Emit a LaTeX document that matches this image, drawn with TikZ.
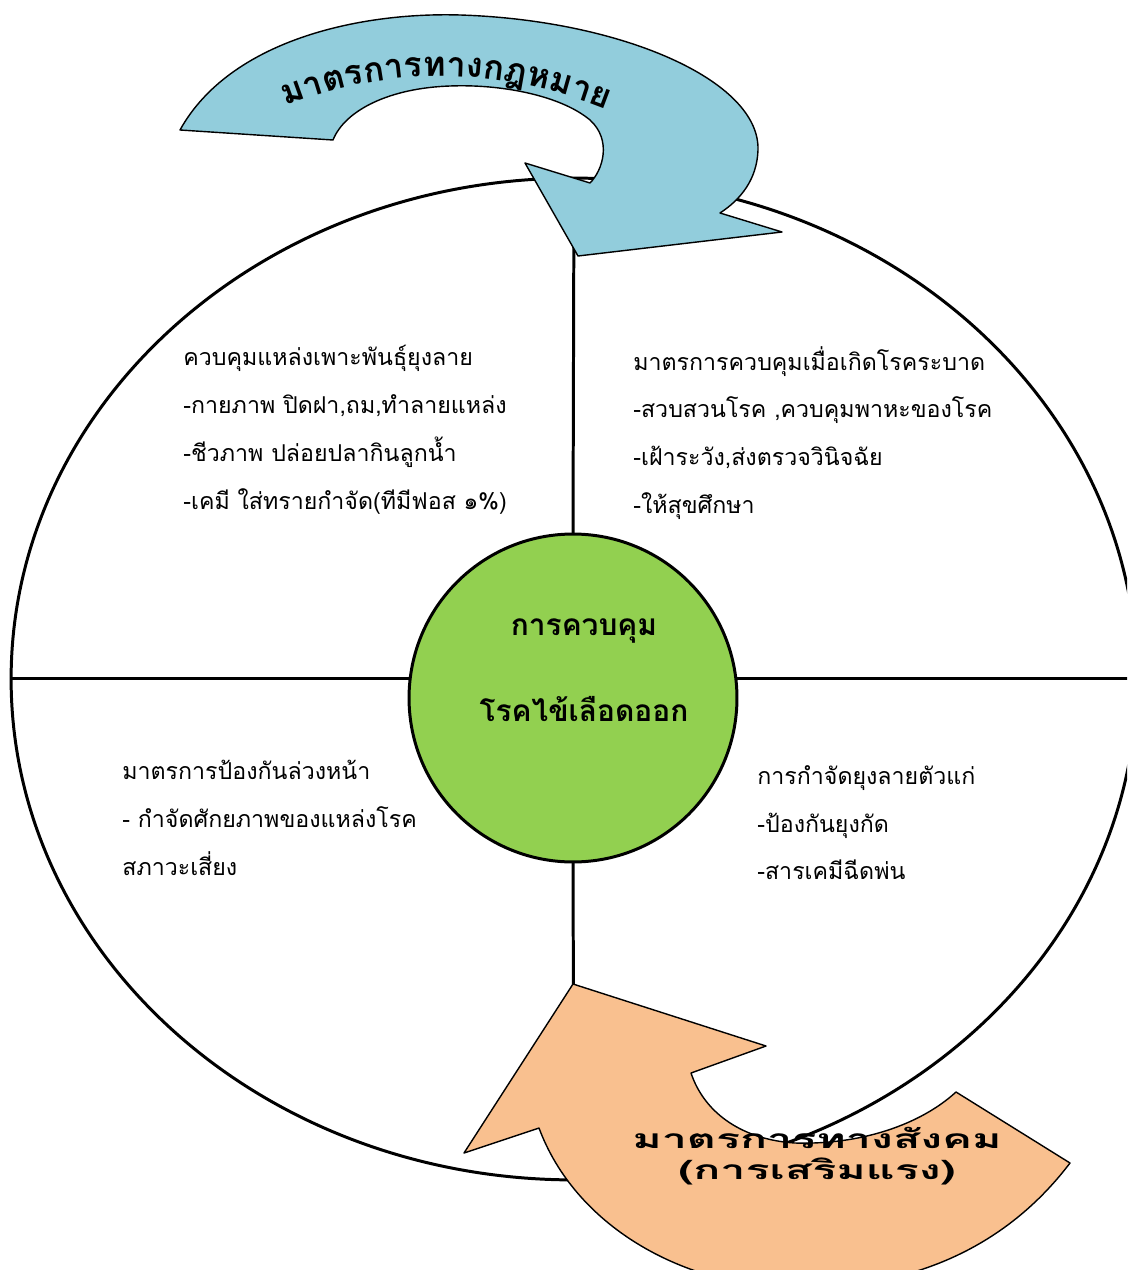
\documentclass[tikz,border=0pt]{standalone}
\usepackage{fontspec}
\newfontfamily\thaifont[Script=Thai]{Loma}
\newfontfamily\widethai[Script=Thai,FakeStretch=1.7]{Loma}
\usetikzlibrary{shapes.geometric,decorations.text}

\definecolor{lawblue}{HTML}{92CDDC}
\definecolor{socialorange}{HTML}{F9C08F}
\definecolor{hubgreen}{HTML}{92D050}

\begin{document}
\begin{tikzpicture}[
    x=0.02cm,y=-0.02cm,
    rim/.style={draw, ellipse, line width=1.7pt, minimum width=22.52cm, minimum height=20.04cm,
                inner sep=0pt, outer sep=0pt},
    hub/.style={draw, circle, line width=1.7pt, fill=hubgreen, minimum size=6.56cm,
                inner sep=0pt, outer sep=0pt},
    spoke/.style={line width=1.7pt},
    note/.style={anchor=north west, align=left, inner sep=0pt,
                 font=\thaifont\fontsize{13.2}{27.2}\selectfont},
    bendarrow/.style={draw, line width=0.8pt, line join=round}
]
\useasboundingbox (0,0) rectangle (1127,1270);
\clip (0,0) rectangle (1127,1270);

% outer ring and centre
\node[rim] (rim) at (574,679) {};
\node[hub] (hub) at (573,698) {};
\node[align=center, font=\thaifont\bfseries\fontsize{17}{48.7}\selectfont] (hubtext) at (584,670)
  {การควบคุม\\โรคไข้เลือดออก};

\draw[spoke] (rim.north) -- (hub.north);
\draw[spoke] (hub.south) -- (rim.south);
\draw[spoke] (rim.west |- hub.173) -- (hub.173);
\draw[spoke] (hub.7) -- (hub.7 -| rim.east);

% quarter texts
\node[note] (breeding) at (183,345)
  {ควบคุมแหล่งเพาะพันธุ์ยุงลาย\\-กายภาพ ปิดฝา,ถม,ทำลายแหล่ง\\-ชีวภาพ ปล่อยปลากินลูกน้ำ\\-เคมี ใส่ทรายกำจัด(ทีมีฟอส ๑\%)};
\node[note] (outbreak) at (633,346)
  {มาตรการควบคุมเมื่อเกิดโรคระบาด\\-สวบสวนโรค ,ควบคุมพาหะของโรค\\-เฝ้าระวัง,ส่งตรวจวินิจฉัย\\-ให้สุขศึกษา};
\node[note] (prevent) at (122,760)
  {มาตรการป้องกันล่วงหน้า\\- กำจัดศักยภาพของแหล่งโรค\\สภาวะเสี่ยง};
\node[note] (adults) at (757,765)
  {การกำจัดยุงลายตัวแก่\\-ป้องกันยุงกัด\\-สารเคมีฉีดพ่น};

% legal measures arrow
\path[bendarrow, fill=lawblue] (180,130)
  .. controls (230,40) and (360,12) .. (460,15)
  .. controls (620,20) and (760,80) .. (758,150)
  .. controls (757,180) and (740,200) .. (720,213)
  -- (782,232) -- (578,256) -- (525,163) -- (590,183)
  .. controls (603,170) and (612,140) .. (590,120)
  .. controls (560,95) and (500,84) .. (450,86)
  .. controls (390,88) and (345,110) .. (333,140) -- cycle;
\path[decorate, decoration={text along path, text align=center,
      text={|\thaifont\bfseries\fontsize{19.6}{24}\selectfont|มาตรการทางกฎหมาย}}]
  (252,120) .. controls (380,60) and (510,62) .. (640,124);

% social measures arrow
\path[bendarrow, fill=socialorange] (573,984) -- (766,1046) -- (691,1073)
  .. controls (705,1115) and (745,1140) .. (795,1143)
  .. controls (860,1145) and (920,1125) .. (956,1092)
  -- (1070,1163)
  .. controls (1000,1255) and (900,1290) .. (790,1288)
  .. controls (680,1285) and (575,1225) .. (539,1128)
  -- (464,1153) -- cycle;
\node[align=center, font=\widethai\bfseries\fontsize{15}{18}\selectfont] (social) at (817,1156)
  {มาตรการทางสังคม\\(การเสริมแรง)};
\end{tikzpicture}
\end{document}
